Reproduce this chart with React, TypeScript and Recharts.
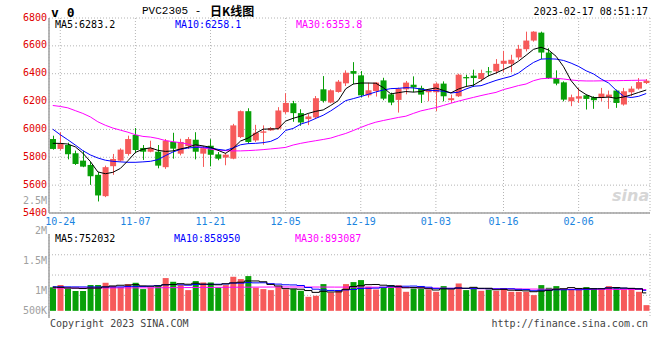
import React from 'react'
import { ComposedChart, Bar, Line, XAxis, YAxis, CartesianGrid, Cell } from 'recharts'

// trading days 2022-10-21 .. 2023-02-17
const DATES = [
  '10-21', '10-24', '10-25', '10-26', '10-27', '10-28', '10-31', '11-01', '11-02', '11-03',
  '11-04', '11-07', '11-08', '11-09', '11-10', '11-11', '11-14', '11-15', '11-16', '11-17',
  '11-18', '11-21', '11-22', '11-23', '11-24', '11-25', '11-28', '11-29', '11-30', '12-01',
  '12-02', '12-05', '12-06', '12-07', '12-08', '12-09', '12-12', '12-13', '12-14', '12-15',
  '12-16', '12-19', '12-20', '12-21', '12-22', '12-23', '12-26', '12-27', '12-28', '12-29',
  '12-30', '01-03', '01-04', '01-05', '01-06', '01-09', '01-10', '01-11', '01-12', '01-13',
  '01-16', '01-17', '01-18', '01-19', '01-20', '01-30', '01-31', '02-01', '02-02', '02-03',
  '02-06', '02-07', '02-08', '02-09', '02-10', '02-13', '02-14', '02-15', '02-16', '02-17',
]
const TICK_DATES = ['10-24', '11-07', '11-21', '12-05', '12-19', '01-03', '01-16', '02-06']

const OPEN = [
  5931, 5860, 5888, 5829, 5776, 5745, 5674, 5521, 5736, 5776,
  5824, 5960, 5867, 5840, 5840, 5729, 5910, 5826, 5880, 5926,
  5826, 5883, 5821, 5798, 5790, 5945, 6131, 5921, 5976, 5993,
  6005, 6124, 6188, 6117, 6074, 6086, 6288, 6193, 6269, 6331,
  6419, 6388, 6245, 6276, 6352, 6252, 6212, 6288, 6321, 6298,
  6267, 6267, 6329, 6210, 6238, 6376, 6386, 6362, 6417, 6417,
  6471, 6471, 6517, 6576, 6638, 6695, 6552, 6369, 6338, 6202,
  6221, 6245, 6231, 6226, 6233, 6279, 6179, 6267, 6293, 6333,
]
const HIGH = [
  5955, 5980, 5905, 5848, 5848, 5769, 5693, 5740, 5824, 5864,
  5955, 6010, 5888, 5919, 5888, 5931, 5976, 5933, 5945, 5980,
  5880, 5930, 5838, 5833, 6040, 6136, 6152, 6033, 6029, 6017,
  6160, 6260, 6205, 6145, 6110, 6240, 6383, 6288, 6355, 6424,
  6483, 6419, 6336, 6340, 6371, 6264, 6300, 6348, 6381, 6314,
  6290, 6338, 6345, 6250, 6400, 6393, 6429, 6429, 6448, 6505,
  6564, 6536, 6607, 6702, 6705, 6702, 6583, 6424, 6345, 6250,
  6298, 6250, 6238, 6298, 6279, 6286, 6298, 6310, 6369, 6362,
]
const LOW = [
  5855, 5850, 5785, 5745, 5729, 5602, 5483, 5514, 5674, 5769,
  5812, 5831, 5781, 5836, 5721, 5717, 5790, 5814, 5860, 5785,
  5731, 5735, 5779, 5743, 5786, 5938, 5898, 5910, 5890, 5990,
  5998, 6112, 6055, 6026, 6031, 6074, 6193, 6188, 6264, 6312,
  6324, 6229, 6229, 6236, 6210, 6174, 6121, 6252, 6267, 6190,
  6202, 6131, 6202, 6190, 6233, 6310, 6305, 6345, 6381, 6400,
  6412, 6410, 6500, 6560, 6630, 6505, 6362, 6317, 6202, 6167,
  6190, 6143, 6148, 6202, 6148, 6155, 6171, 6238, 6286, 6326,
]
const CLOSE = [
  5860, 5900, 5822, 5752, 5733, 5664, 5526, 5729, 5788, 5855,
  5931, 5852, 5840, 5867, 5740, 5919, 5862, 5910, 5931, 5840,
  5866, 5818, 5790, 5819, 6029, 6131, 5910, 5976, 5986, 6010,
  6136, 6190, 6117, 6050, 6093, 6224, 6205, 6281, 6343, 6407,
  6400, 6245, 6281, 6336, 6221, 6193, 6293, 6336, 6302, 6250,
  6286, 6329, 6238, 6224, 6393, 6367, 6369, 6405, 6410, 6471,
  6493, 6500, 6579, 6638, 6702, 6552, 6369, 6329, 6214, 6231,
  6238, 6219, 6210, 6257, 6250, 6190, 6274, 6293, 6340, 6350,
]
const MA5 = [
  5900, 5900, 5895, 5875, 5830, 5770, 5695, 5682, 5692, 5720,
  5775, 5835, 5858, 5868, 5850, 5842, 5846, 5860, 5872, 5890,
  5882, 5872, 5850, 5828, 5864, 5917, 5938, 5972, 6002, 6003,
  6005, 6060, 6080, 6095, 6115, 6130, 6140, 6172, 6207, 6292,
  6326, 6333, 6333, 6332, 6300, 6255, 6264, 6272, 6268, 6272,
  6288, 6298, 6280, 6262, 6290, 6308, 6318, 6350, 6385, 6405,
  6430, 6455, 6490, 6532, 6575, 6590, 6570, 6525, 6450, 6350,
  6285, 6250, 6228, 6229, 6232, 6224, 6233, 6248, 6266, 6283,
]
const MA10 = [
  6002, 5962, 5926, 5888, 5848, 5817, 5795, 5779, 5771, 5767,
  5764, 5764, 5767, 5771, 5783, 5812, 5838, 5857, 5867, 5871,
  5874, 5867, 5857, 5850, 5867, 5890, 5898, 5900, 5905, 5914,
  5938, 5993, 6007, 6038, 6055, 6079, 6102, 6133, 6169, 6207,
  6221, 6236, 6252, 6269, 6283, 6293, 6295, 6300, 6298, 6290,
  6281, 6279, 6274, 6262, 6267, 6290, 6310, 6314, 6333, 6352,
  6367, 6381, 6405, 6445, 6481, 6505, 6507, 6505, 6495, 6476,
  6452, 6421, 6398, 6362, 6333, 6281, 6238, 6229, 6238, 6258,
]
const MA30 = [
  6172, 6165, 6155, 6135, 6115, 6090, 6055, 6030, 6010, 5995,
  5980, 5962, 5950, 5945, 5935, 5920, 5912, 5905, 5895, 5880,
  5868, 5858, 5852, 5848, 5846, 5846, 5848, 5851, 5855, 5860,
  5865, 5871, 5888, 5900, 5910, 5919, 5928, 5938, 5955, 5971,
  5992, 6014, 6035, 6052, 6064, 6075, 6086, 6095, 6115, 6133,
  6145, 6157, 6172, 6188, 6203, 6217, 6230, 6243, 6255, 6266,
  6286, 6300, 6315, 6326, 6350, 6364, 6367, 6367, 6362, 6355,
  6350, 6348, 6348, 6349, 6350, 6350, 6351, 6352, 6353, 6354,
]

const VOLUME = [
  987000, 1084000, 937000, 832000, 832000, 1084000, 1084000, 1176000, 1037000, 979000,
  1121000, 1176000, 911000, 979000, 1037000, 1373000, 1218000, 1079000, 869000, 1247000,
  1189000, 1189000, 966000, 1079000, 1428000, 1331000, 1457000, 966000, 911000, 869000,
  1008000, 903000, 911000, 840000, 588000, 630000, 1121000, 769000, 869000, 1121000,
  1205000, 1289000, 1008000, 895000, 979000, 1079000, 1079000, 798000, 937000, 937000,
  895000, 798000, 1037000, 895000, 1147000, 869000, 979000, 840000, 895000, 840000,
  953000, 798000, 798000, 798000, 659000, 1079000, 966000, 1037000, 895000, 895000,
  895000, 995000, 953000, 895000, 1037000, 995000, 895000, 895000, 798000, 239000,
]
const VOL_MA5 = [
  990000, 985000, 960000, 950000, 934000, 954000, 954000, 1002000, 1043000, 1072000,
  1079000, 1098000, 1045000, 1033000, 1045000, 1095000, 1104000, 1137000, 1115000, 1157000,
  1120000, 1115000, 1092000, 1134000, 1170000, 1199000, 1252000, 1252000, 1219000, 1107000,
  1042000, 931000, 920000, 906000, 850000, 774000, 818000, 790000, 795000, 902000,
  1017000, 1051000, 1098000, 1104000, 1075000, 1050000, 1008000, 966000, 974000, 966000,
  929000, 873000, 921000, 912000, 954000, 949000, 985000, 946000, 946000, 885000,
  901000, 865000, 857000, 837000, 801000, 826000, 860000, 908000, 927000, 974000,
  938000, 943000, 927000, 927000, 955000, 975000, 955000, 943000, 924000, 752032,
]
const VOL_MA10 = [
  1010000, 1008000, 1005000, 1003000, 1002000, 1001000, 1000000, 1000000, 1001000, 1003000,
  1017000, 1026000, 1023000, 1038000, 1058000, 1087000, 1101000, 1091000, 1074000, 1101000,
  1108000, 1109000, 1115000, 1125000, 1164000, 1160000, 1183000, 1172000, 1176000, 1139000,
  1120000, 1092000, 1086000, 1062000, 978000, 908000, 875000, 855000, 851000, 876000,
  896000, 934000, 944000, 950000, 989000, 1034000, 1029000, 1032000, 1039000, 1021000,
  990000, 941000, 943000, 943000, 960000, 939000, 929000, 933000, 929000, 920000,
  925000, 925000, 901000, 892000, 843000, 864000, 863000, 882000, 882000, 888000,
  882000, 902000, 917000, 927000, 965000, 956000, 949000, 935000, 925000, 858950,
]
const VOL_MA30 = [
  955000, 955000, 956000, 957000, 958000, 958000, 959000, 960000, 961000, 962000,
  963000, 964000, 965000, 966000, 968000, 970000, 972000, 974000, 976000, 978000,
  980000, 982000, 984000, 986000, 988000, 990000, 992000, 994000, 996000, 998000,
  999000, 1000000, 1000000, 1000000, 999000, 998000, 997000, 996000, 995000, 995000,
  994000, 993000, 992000, 990000, 988000, 985000, 982000, 978000, 972000, 965000,
  958000, 952000, 948000, 944000, 940000, 936000, 932000, 928000, 925000, 922000,
  920000, 918000, 916000, 914000, 912000, 910000, 908000, 906000, 905000, 904000,
  903000, 902000, 901000, 900000, 899000, 898000, 897000, 896000, 895000, 893087,
]

const PRICE_TICKS = [5400, 5600, 5800, 6000, 6200, 6400, 6600, 6800]
const VOL_TICKS = [0, 850000, 2110000, 3220000]
const VOL_TICK_LABELS = ['500K', '1M', '1.5M', '2M']
const VOL_GRID = [2350000, 1500000, 650000]

const RED = '#f65a5a'
const GREEN = '#08a008'
const FRAME = '#a0a0a0'
const GRID = '#b4b4b4'
const MONO = '"DejaVu Sans Mono", monospace'

const rows = DATES.map((date, i) => ({
  date,
  open: OPEN[i],
  high: HIGH[i],
  low: LOW[i],
  close: CLOSE[i],
  ma5: MA5[i],
  ma10: MA10[i],
  ma30: MA30[i],
  volume: VOLUME[i],
  vma5: VOL_MA5[i],
  vma10: VOL_MA10[i],
  vma30: VOL_MA30[i],
}))

function Candle(props: any) {
  const { x, y, width, height, payload } = props
  if (x == null || y == null) return null
  const { open, close, high, low } = payload
  const top = Math.min(y, y + height)
  const h = Math.abs(height)
  const k = high > low ? h / (high - low) : 0
  const color = close >= open ? RED : GREEN
  const bodyTop = top + (high - Math.max(open, close)) * k
  const bodyH = Math.max(1, Math.abs(open - close) * k)
  const cx = Math.round(x + width / 2 - 0.5)
  return (
    <g>
      <rect x={cx} y={top} width={1} height={Math.max(h, 1)} fill={color} />
      <rect x={x} y={bodyTop} width={width} height={bodyH} fill={color} />
    </g>
  )
}

// volume axis labels sit a little off their ticks in the original; the top one rides above the frame
function VolTick(props: any) {
  const { x, y, payload, index } = props
  const label = VOL_TICK_LABELS[VOL_TICKS.indexOf(payload.value)] ?? ''
  const dy = index === VOL_TICKS.length - 1 ? -4 : 0
  return (
    <text x={x} y={y + dy} dy="0.355em" textAnchor="end" fill="#a0a0a0" fontSize={10} fontFamily={MONO}>
      {label}
    </text>
  )
}

function Txt({ x, y, right, size = 10, color = '#000', bold, font = MONO, children }: any) {
  const style: React.CSSProperties = {
    position: 'absolute',
    top: y - size / 2 - 1,
    fontSize: size,
    lineHeight: `${size + 2}px`,
    fontFamily: font,
    color,
    fontWeight: bold ? 'bold' : 'normal',
    whiteSpace: 'nowrap',
  }
  if (right != null) style.right = 660 - right
  else style.left = x
  return <div style={style}>{children}</div>
}

export default function App() {
  return (
    <div style={{ position: 'absolute', left: 0, top: 0, width: 660, height: 360, background: '#fff', overflow: 'hidden' }}>
      <div style={{ position: 'absolute', left: 0, top: 0 }}>
        <ComposedChart width={660} height={232} data={rows} margin={{ top: 18, right: 10, left: 0, bottom: 0 }}>
          <CartesianGrid stroke={GRID} strokeDasharray="1 2" />
          <XAxis
            dataKey="date"
            ticks={TICK_DATES}
            interval={0}
            height={19}
            tickLine={false}
            tickSize={0}
            tickMargin={5}
            axisLine={{ stroke: FRAME, strokeWidth: 1.5 }}
            tick={{ fill: '#1a84e0', fontSize: 10, fontFamily: MONO }}
          />
          <XAxis xAxisId="top" orientation="top" dataKey="date" height={0} tick={false} tickLine={false} axisLine={{ stroke: FRAME }} />
          <YAxis
            domain={[5400, 6800]}
            ticks={PRICE_TICKS}
            interval={0}
            width={49}
            tickLine={false}
            tickSize={0}
            tickMargin={2}
            axisLine={{ stroke: FRAME, strokeWidth: 1.5 }}
            tick={{ fill: '#e00000', fontSize: 10, fontFamily: MONO, dy: -1 }}
          />
          <YAxis yAxisId="right" orientation="right" width={0} tick={false} tickLine={false} axisLine={{ stroke: FRAME }} />
          <Bar
            dataKey={(d: any) => [d.low, d.high]}
            barSize={6}
            isAnimationActive={false}
            shape={(p: any) => <Candle {...p} />}
          />
          <Line dataKey="ma30" stroke="#ff00ff" strokeWidth={1} dot={false} isAnimationActive={false} />
          <Line dataKey="ma10" stroke="#0000ff" strokeWidth={1} dot={false} isAnimationActive={false} />
          <Line dataKey="ma5" stroke="#000000" strokeWidth={1} dot={false} isAnimationActive={false} />
        </ComposedChart>
      </div>

      <div style={{ position: 'absolute', left: 0, top: 226 }}>
        <ComposedChart width={660} height={100} data={rows} margin={{ top: 8, right: 10, left: 0, bottom: 8 }}>
          <CartesianGrid stroke={GRID} strokeDasharray="1 2" horizontalValues={VOL_GRID} />
          <XAxis
            dataKey="date"
            ticks={TICK_DATES}
            interval={0}
            height={0}
            tick={false}
            tickLine={false}
            axisLine={{ stroke: FRAME, strokeWidth: 1.5 }}
          />
          <XAxis xAxisId="top" orientation="top" dataKey="date" height={0} tick={false} tickLine={false} axisLine={{ stroke: FRAME, strokeWidth: 1.5 }} />
          <YAxis
            domain={[-300000, 3220000]}
            ticks={VOL_TICKS}
            interval={0}
            width={49}
            tickLine={false}
            tickSize={0}
            tickMargin={2}
            axisLine={{ stroke: FRAME, strokeWidth: 1.5 }}
            tick={(p: any) => <VolTick {...p} />}
          />
          <YAxis yAxisId="right" orientation="right" width={0} tick={false} tickLine={false} axisLine={{ stroke: FRAME }} />
          <Bar dataKey="volume" barSize={6} isAnimationActive={false}>
            {rows.map((r) => (
              <Cell key={r.date} fill={r.close >= r.open ? RED : GREEN} />
            ))}
          </Bar>
          <Line type="step" dataKey="vma30" stroke="#ff00ff" strokeWidth={1} dot={false} isAnimationActive={false} />
          <Line type="step" dataKey="vma10" stroke="#0000ff" strokeWidth={1} dot={false} isAnimationActive={false} />
          <Line type="step" dataKey="vma5" stroke="#000000" strokeWidth={1} dot={false} isAnimationActive={false} />
        </ComposedChart>
      </div>

      <Txt x={51} y={12} size={13} bold>v 0</Txt>
      <Txt x={142} y={11} size={11} font='"Liberation Mono", monospace'>PVC2305 -</Txt>
      <Txt x={210} y={11} size={12} bold font='"Noto Sans CJK SC", sans-serif'>日K线图</Txt>
      <Txt right={648} y={12}>2023-02-17 08:51:17</Txt>

      <Txt x={55} y={25}>MA5:6283.2</Txt>
      <Txt x={175} y={25} color="#0000ff">MA10:6258.1</Txt>
      <Txt x={296} y={25} color="#ff00ff">MA30:6353.8</Txt>

      <Txt right={47} y={201} color="#a0a0a0">2.5M</Txt>
      <Txt x={612} y={196} size={16} bold color="#d6d6d6" font='"DejaVu Sans", sans-serif'>
        <span style={{ fontStyle: 'italic' }}>sina</span>
      </Txt>

      <Txt x={55} y={239}>MA5:752032</Txt>
      <Txt x={174} y={239} color="#0000ff">MA10:858950</Txt>
      <Txt x={295} y={239} color="#ff00ff">MA30:893087</Txt>

      <Txt x={50} y={324} color="#444">Copyright 2023 SINA.COM</Txt>
      <Txt right={648} y={324} color="#444">http://finance.sina.com.cn</Txt>
    </div>
  )
}
